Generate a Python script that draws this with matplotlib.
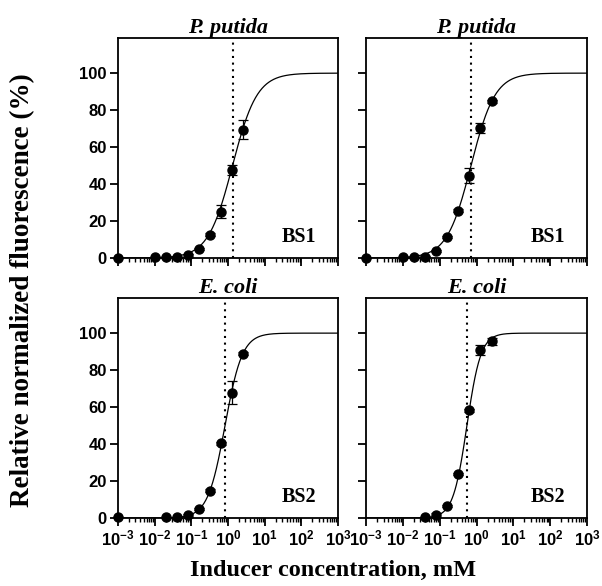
import numpy as np
import matplotlib
matplotlib.use('Agg')
import matplotlib.pyplot as plt
from matplotlib.ticker import LogLocator, NullFormatter, FixedLocator

plt.rcParams['mathtext.fontset'] = 'custom'
plt.rcParams['mathtext.rm'] = 'Liberation Sans:bold'
plt.rcParams['mathtext.bf'] = 'Liberation Sans:bold'
plt.rcParams['mathtext.it'] = 'Liberation Sans:bold'

# doubling dilution series, the zero sample is drawn at 10^-3
conc_tl = [0.001, 0.01, 0.02, 0.04, 0.08, 0.16, 0.32, 0.64, 1.28, 2.56]
fluo_tl = [0.0, 0.5, 0.4, 0.4, 1.4, 4.9, 12.6, 24.9, 47.6, 69.4]
err_tl = [0.0, 0.3, 0.3, 0.3, 1.0, 0.6, 0.8, 3.5, 2.7, 5.0]

conc_tr = [0.001, 0.01, 0.02, 0.04, 0.08, 0.16, 0.32, 0.64, 1.28, 2.56]
fluo_tr = [0.0, 0.5, 0.4, 0.7, 4.0, 11.2, 25.6, 44.5, 70.3, 84.7]
err_tr = [0.0, 0.3, 0.3, 0.3, 0.5, 0.6, 0.8, 4.0, 2.7, 1.0]

conc_bl = [0.001, 0.02, 0.04, 0.08, 0.16, 0.32, 0.64, 1.28, 2.56]
fluo_bl = [0.3, 0.5, 0.5, 1.4, 4.8, 14.7, 40.4, 67.7, 88.9]
err_bl = [0.0, 0.3, 0.3, 1.0, 0.5, 0.8, 0.8, 6.3, 1.0]

conc_br = [0.04, 0.08, 0.16, 0.32, 0.64, 1.28, 2.56]
fluo_br = [0.5, 1.8, 6.6, 23.8, 58.2, 91.0, 95.5]
err_br = [0.3, 1.0, 0.6, 0.8, 1.0, 2.7, 1.7]

# fitted Hill parameters (EC50 in mM, slope)
ec50 = [1.33, 0.71, 0.83, 0.55]
hill = [1.3, 1.33, 1.85, 2.3]

titles = ['P. putida', 'P. putida', 'E. coli', 'E. coli']
tags = ['BS1', 'BS1', 'BS2', 'BS2']
decades = [1e-3, 1e-2, 1e-1, 1e0, 1e1, 1e2, 1e3]
xlabels = [r'$10^{-3}$', r'$10^{-2}$', r'$10^{-1}$', r'$10^{0}$',
           r'$10^{1}$', r'$10^{2}$', r'$10^{3}$']
yticks = [0, 20, 40, 60, 80, 100]

serif = 'Liberation Serif'
sans = 'Liberation Sans'

fig = plt.figure(figsize=(6.02, 5.86), dpi=100)

boxes = [
    [118 / 602, 1 - 258 / 586, 220 / 602, 220 / 586],
    [366 / 602, 1 - 258 / 586, 221 / 602, 220 / 586],
    [118 / 602, 1 - 518 / 586, 220 / 602, 220 / 586],
    [366 / 602, 1 - 518 / 586, 221 / 602, 220 / 586],
]
data = [(conc_tl, fluo_tl, err_tl), (conc_tr, fluo_tr, err_tr),
        (conc_bl, fluo_bl, err_bl), (conc_br, fluo_br, err_br)]

xs = np.logspace(-3, 3, 500)

for i in range(4):
    ax = fig.add_axes(boxes[i])
    conc, fluo, err = data[i]

    curve = 100 / (1 + (ec50[i] / xs) ** hill[i])
    ax.plot(xs, curve, color='black', lw=0.9, zorder=2)
    ax.axvline(ec50[i], color='black', ls=(0, (1, 2.2)), lw=1.5, zorder=1)
    ax.errorbar(conc, fluo, yerr=err, fmt='o', color='black', ms=6.5,
                capsize=3.5, elinewidth=0.9, capthick=0.9, zorder=3,
                clip_on=False)

    ax.set_xscale('log')
    ax.set_xlim(1e-3, 1e3)
    ax.set_ylim(0, 119)
    ax.xaxis.set_major_locator(FixedLocator(decades))
    ax.xaxis.set_minor_locator(LogLocator(base=10, subs=np.arange(2, 10), numticks=20))
    ax.xaxis.set_minor_formatter(NullFormatter())
    ax.set_yticks(yticks)

    for s in ax.spines.values():
        s.set_linewidth(1.3)
    ax.tick_params(which='major', direction='out', length=6, width=1.3)
    ax.tick_params(which='minor', direction='out', length=3, width=1.0)
    ax.tick_params(axis='y', which='minor', left=False)

    if i >= 2:
        ax.set_xticklabels(xlabels)
        for t in ax.get_xticklabels():
            t.set_fontsize(12)
    else:
        ax.set_xticklabels([])
    if i % 2 == 0:
        ax.set_yticklabels([str(v) for v in yticks], fontsize=12,
                           fontweight='bold', family=sans)
    else:
        ax.set_yticklabels([])
    ax.tick_params(axis='both', pad=2)

    ax.set_title(titles[i], family=serif, fontweight='bold', style='italic',
                 fontsize=16, pad=3)
    ax.text(0.9, 0.075, tags[i], transform=ax.transAxes, ha='right',
            va='baseline', family=serif, fontweight='bold', fontsize=14.5)

fig.text(0.038, 0.505, 'Relative normalized fluorescence (%)', rotation=90,
         ha='center', va='center', family=serif, fontweight='bold', fontsize=19.5)
fig.text(0.553, 0.027, 'Inducer concentration, mM', ha='center',
         va='center', family=serif, fontweight='bold', fontsize=17.5)

fig.savefig('out.png', dpi=100)
